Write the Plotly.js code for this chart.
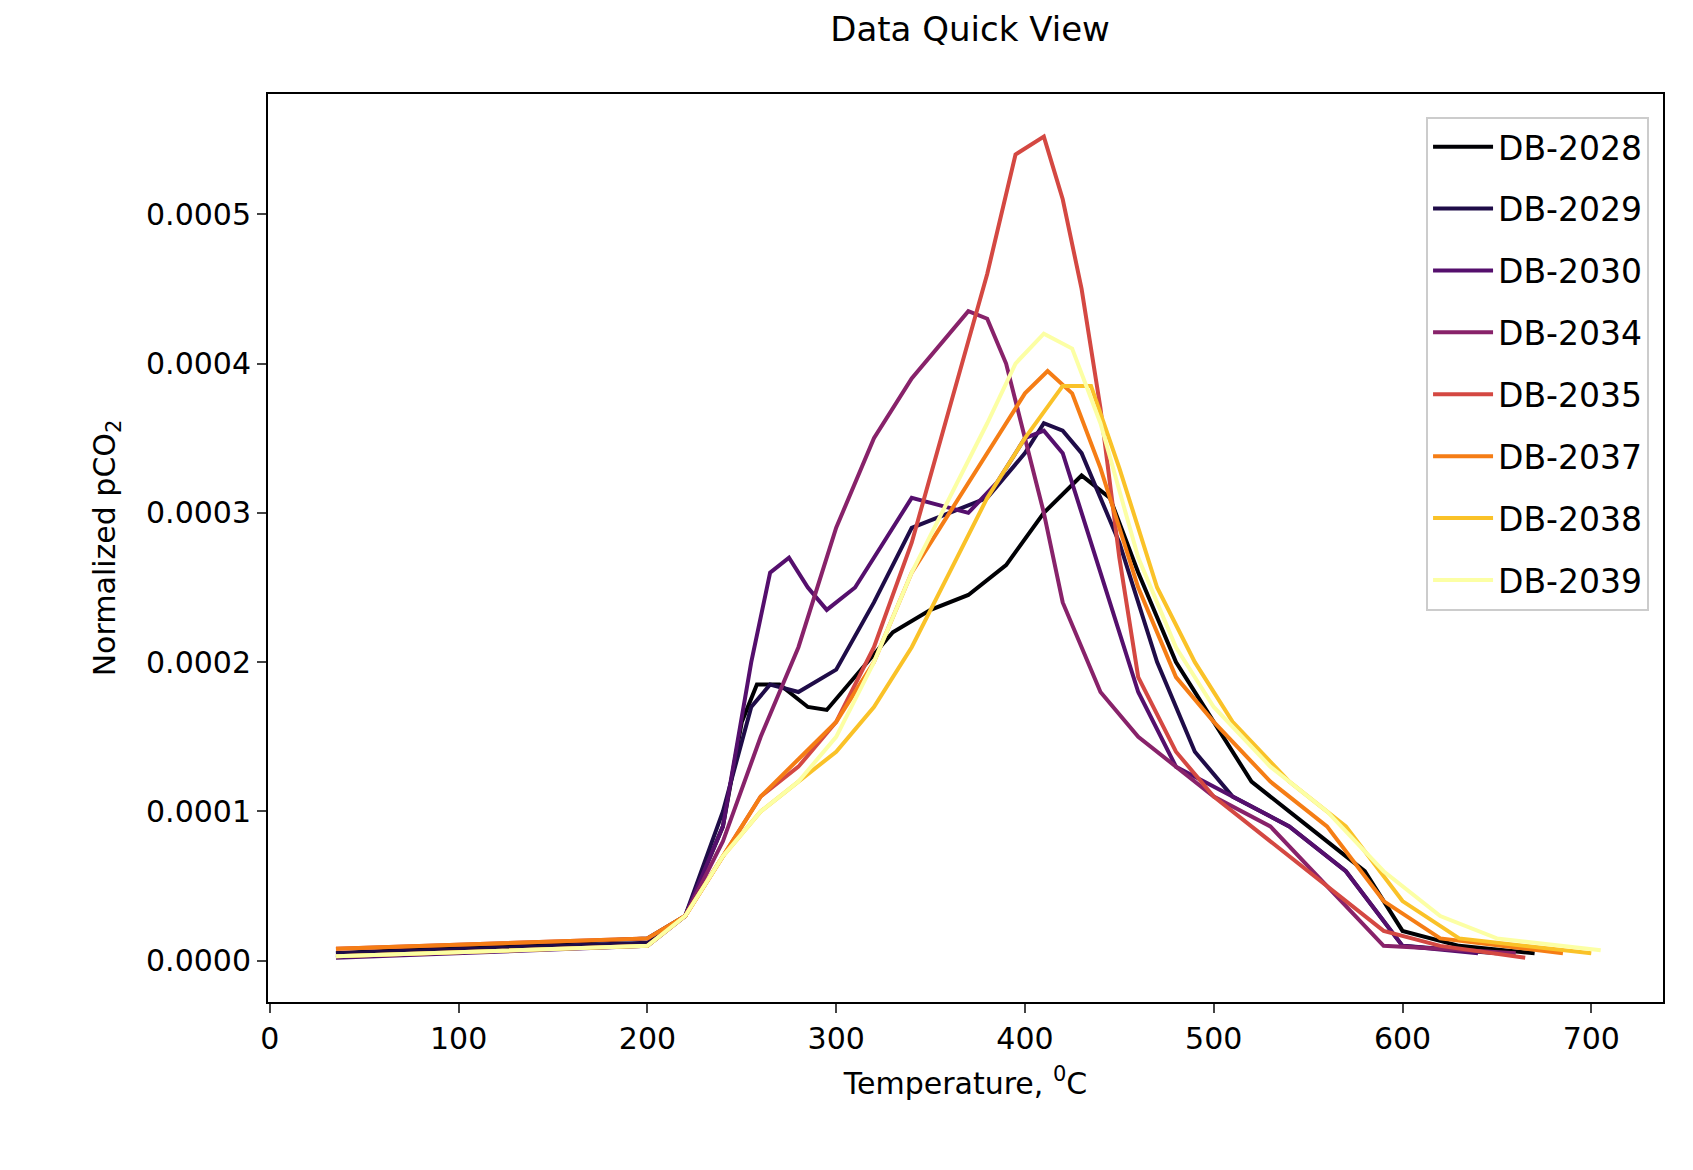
<!DOCTYPE html>
<html><head><meta charset="utf-8">
<script src="https://cdn.plot.ly/plotly-3.0.1.min.js"></script>
<style>body{margin:0;background:#fff}</style></head>
<body><div id="c" style="width:1693px;height:1170px"></div>
<script>
const names=["DB-2028","DB-2029","DB-2030","DB-2034","DB-2035","DB-2037","DB-2038","DB-2039"];
const colors=["#000004","#1f0c48","#550f6d","#88226a","#d44842","#f57d15","#fac228","#fcffa4"];
const x2028=[35,200,220,240,250,258,270,285,295,310,330,350,370,390,410,430,445,460,480,500,520,550,580,600,630,670];
const y2028=[5e-6,1.5e-5,3e-5,9e-5,1.6e-4,1.85e-4,1.85e-4,1.7e-4,1.68e-4,1.9e-4,2.2e-4,2.35e-4,2.45e-4,2.65e-4,3.0e-4,3.25e-4,3.1e-4,2.6e-4,2.0e-4,1.6e-4,1.2e-4,9e-5,6e-5,2e-5,1e-5,5e-6];
const x2029=[35,200,220,240,255,265,280,300,320,340,360,380,400,410,420,430,450,470,490,510,540,570,600,650];
const y2029=[5e-6,1.2e-5,3e-5,1.0e-4,1.7e-4,1.85e-4,1.8e-4,1.95e-4,2.4e-4,2.9e-4,3.0e-4,3.1e-4,3.4e-4,3.6e-4,3.55e-4,3.4e-4,2.8e-4,2.0e-4,1.4e-4,1.1e-4,9e-5,6e-5,1e-5,5e-6];
const x2030=[35,200,220,240,255,265,275,285,295,310,325,340,355,370,385,400,410,420,440,460,480,510,540,570,600,640];
const y2030=[2e-6,1e-5,3e-5,9e-5,2.0e-4,2.6e-4,2.7e-4,2.5e-4,2.35e-4,2.5e-4,2.8e-4,3.1e-4,3.05e-4,3.0e-4,3.2e-4,3.5e-4,3.55e-4,3.4e-4,2.6e-4,1.8e-4,1.3e-4,1.1e-4,9e-5,6e-5,1e-5,5e-6];
const x2034=[35,200,220,240,260,280,300,320,340,360,370,380,390,400,410,420,440,460,480,500,530,560,590,620,660];
const y2034=[3e-6,1e-5,3e-5,8e-5,1.5e-4,2.1e-4,2.9e-4,3.5e-4,3.9e-4,4.2e-4,4.35e-4,4.3e-4,4.0e-4,3.5e-4,3.0e-4,2.4e-4,1.8e-4,1.5e-4,1.3e-4,1.1e-4,9e-5,5e-5,1e-5,8e-6,5e-6];
const x2035=[35,200,220,240,260,280,300,320,340,360,380,395,410,420,430,440,450,460,480,500,530,560,590,620,665];
const y2035=[8e-6,1.5e-5,3e-5,7e-5,1.1e-4,1.3e-4,1.6e-4,2.1e-4,2.8e-4,3.7e-4,4.6e-4,5.4e-4,5.52e-4,5.1e-4,4.5e-4,3.7e-4,2.7e-4,1.9e-4,1.4e-4,1.1e-4,8e-5,5e-5,2e-5,1e-5,2e-6];
const x2037=[35,200,220,240,260,280,300,320,340,360,380,400,412,425,440,460,480,500,530,560,590,620,685];
const y2037=[8e-6,1.5e-5,3e-5,7e-5,1.1e-4,1.35e-4,1.6e-4,2.0e-4,2.6e-4,3.0e-4,3.4e-4,3.8e-4,3.95e-4,3.8e-4,3.3e-4,2.5e-4,1.9e-4,1.6e-4,1.2e-4,9e-5,4e-5,1.5e-5,5e-6];
const x2038=[35,200,220,240,260,280,300,320,340,360,380,400,420,435,450,470,490,510,540,570,600,630,700];
const y2038=[3e-6,1e-5,3e-5,7e-5,1.0e-4,1.2e-4,1.4e-4,1.7e-4,2.1e-4,2.6e-4,3.1e-4,3.5e-4,3.85e-4,3.85e-4,3.3e-4,2.5e-4,2.0e-4,1.6e-4,1.2e-4,9e-5,4e-5,1.5e-5,5e-6];
const x2039=[35,200,220,240,260,280,300,320,340,360,380,395,410,425,440,460,480,500,530,560,590,620,650,705];
const y2039=[3e-6,1e-5,3e-5,7e-5,1.0e-4,1.2e-4,1.5e-4,2.0e-4,2.6e-4,3.1e-4,3.6e-4,4.0e-4,4.2e-4,4.1e-4,3.6e-4,2.7e-4,2.1e-4,1.7e-4,1.3e-4,1.0e-4,6e-5,3e-5,1.5e-5,7e-6];
const xs=[x2028,x2029,x2030,x2034,x2035,x2037,x2038,x2039];
const ys=[y2028,y2029,y2030,y2034,y2035,y2037,y2038,y2039];
const traces=names.map((n,i)=>({x:xs[i],y:ys[i],name:n,legendgroup:'g'+i,mode:'lines',type:'scatter',line:{color:colors[i],width:4}}));
const F='DejaVu Sans, sans-serif';
Plotly.newPlot('c',traces,{
 width:1693,height:1170,margin:{l:268,r:30,t:94,b:168},
 paper_bgcolor:'#fff',plot_bgcolor:'#fff',font:{family:F,size:30,color:'#000'},
 title:{text:'Data Quick View',x:0.573,xanchor:'center',y:0.985,yanchor:'top',font:{size:34}},
 xaxis:{range:[-1,738],dtick:100,tick0:0,showgrid:false,zeroline:false,ticks:'outside',ticklen:9,tickwidth:2,showline:true,mirror:true,linecolor:'#000',linewidth:2,
   title:{text:'Temperature, <sup>0</sup>C',font:{size:30},standoff:18}},
 yaxis:{range:[-0.0000276,0.0005805],dtick:0.0001,tick0:0,tickformat:'.4f',showgrid:false,zeroline:false,ticks:'outside',ticklen:9,tickwidth:2,showline:true,mirror:true,linecolor:'#000',linewidth:2,
   title:{text:'Normalized pCO<sub>2</sub>',font:{size:30},standoff:22}},
 legend:{x:0.99,xanchor:'right',y:0.975,yanchor:'top',bordercolor:'#ccc',borderwidth:2,bgcolor:'rgba(255,255,255,0.8)',font:{size:33},tracegroupgap:16,itemwidth:60}
},{displayModeBar:false});
</script></body></html>
